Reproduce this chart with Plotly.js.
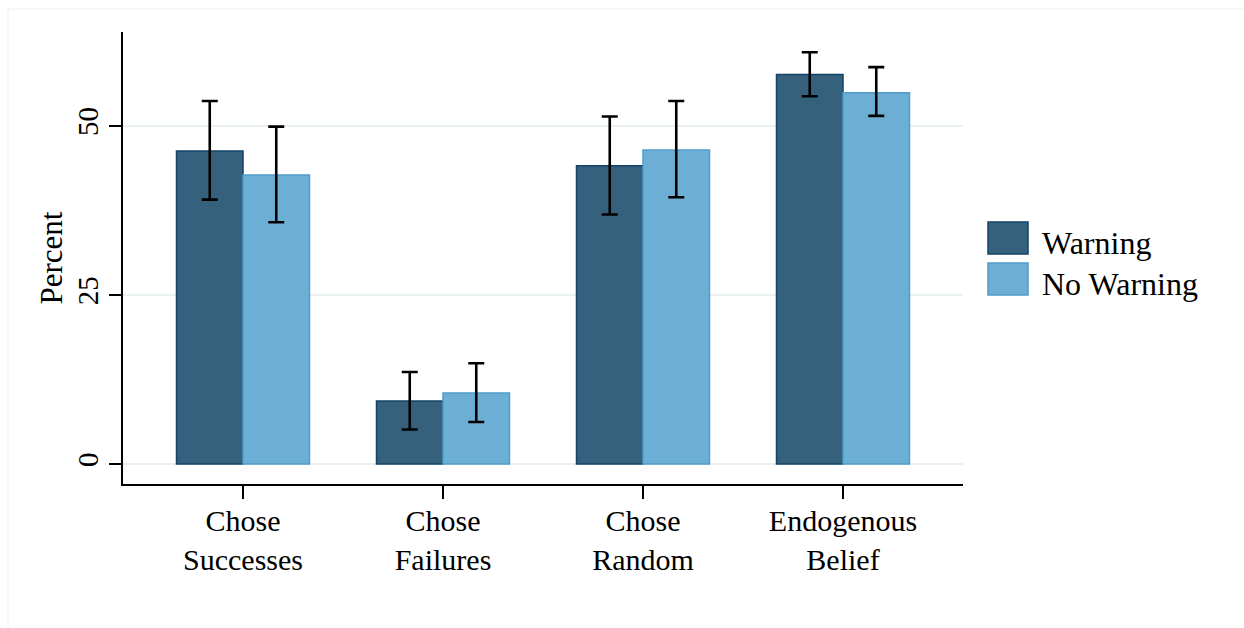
<!DOCTYPE html>
<html>
<head>
<meta charset="utf-8">
<script src="https://cdn.plot.ly/plotly-3.0.1.min.js"></script>
<style>html,body{margin:0;padding:0;background:#fff;}#chart{width:1244px;height:628px;}</style>
</head>
<body>
<div id="chart"></div>
<script>
var categories = ["Chose<br>Successes", "Chose<br>Failures", "Chose<br>Random", "Endogenous<br>Belief"];
var seriesNames = ["Warning", "No Warning"];
var warning = [46.3, 9.3, 44.1, 57.6];
var warningHi = [53.7, 13.6, 51.4, 60.9];
var warningLo = [39.1, 5.1, 36.9, 54.4];
var noWarning = [42.75, 10.5, 46.45, 54.9];
var noWarningHi = [49.9, 14.9, 53.7, 58.7];
var noWarningLo = [35.75, 6.2, 39.45, 51.5];
var yTicks = [0, 25, 50];

var colors = {fill: ["#35617d", "#6caed4"], line: ["#124467", "#4f9dca"]};
var serif = "Liberation Serif, Times New Roman, serif";

function mk(vals, hi, lo, i) {
  return {
    type: "bar", x: categories, y: vals, name: seriesNames[i],
    marker: {color: colors.fill[i], line: {color: colors.line[i], width: 1.5}},
    error_y: {type: "data", symmetric: false,
      array: hi.map(function(h, k){return h - vals[k];}),
      arrayminus: lo.map(function(l, k){return vals[k] - l;}),
      color: "#000", thickness: 2.6, width: 8},
    hoverinfo: "y"
  };
}
var data = [mk(warning, warningHi, warningLo, 0), mk(noWarning, noWarningHi, noWarningLo, 1)];

var L = 123, R = 963, T = 32, B = 484;
function px(x){return (x - L) / (R - L);}
function py(y){return (B - y) / (B - T);}
var shapes = [], annotations = [];
var legY = [[222, 254], [263, 295]];
var legTextY = [243, 284];
for (var i = 0; i < 2; i++) {
  shapes.push({type: "rect", xref: "paper", yref: "paper",
    x0: px(988), x1: px(1028), y0: py(legY[i][1]), y1: py(legY[i][0]),
    fillcolor: colors.fill[i], line: {color: colors.line[i], width: 1.5}});
  annotations.push({xref: "paper", yref: "paper", x: px(1040), y: py(legTextY[i]),
    xanchor: "left", yanchor: "middle", showarrow: false, text: seriesNames[i],
    font: {family: serif, size: 32, color: "#000"}});
}
// faint outer frame
shapes.push({type: "line", xref: "paper", yref: "paper", x0: px(8), x1: px(1244), y0: py(9), y1: py(9), line: {color: "#f0f0f0", width: 1}});
shapes.push({type: "line", xref: "paper", yref: "paper", x0: px(8), x1: px(8), y0: py(9), y1: py(628), line: {color: "#f0f0f0", width: 1}});

var layout = {
  width: 1244, height: 628,
  margin: {l: L, r: 1244 - R, t: T, b: 628 - B, pad: 0},
  paper_bgcolor: "#fff", plot_bgcolor: "#fff",
  barmode: "group", bargap: 0.335, bargroupgap: 0,
  showlegend: false,
  font: {family: serif, color: "#000"},
  xaxis: {
    type: "category", range: [-0.6, 3.6], fixedrange: true,
    showline: true, linecolor: "#000", linewidth: 1.6, mirror: false,
    ticks: "outside", ticklen: 13, tickwidth: 1.5, tickcolor: "#000",
    ticklabelstandoff: -4,
    showgrid: false, zeroline: false,
    tickfont: {family: serif, size: 30, color: "#000"}
  },
  yaxis: {
    range: [-2.96, 63.9], fixedrange: true,
    tickvals: yTicks, ticktext: yTicks.map(String), tickangle: -90,
    showline: true, linecolor: "#000", linewidth: 1.6,
    ticks: "outside", ticklen: 12, tickwidth: 1.5, tickcolor: "#000",
    showgrid: true, gridcolor: "#eaf1f3", gridwidth: 2.2, zeroline: false,
    tickfont: {family: serif, size: 29, color: "#000"},
    title: {text: "Percent", standoff: 0, font: {family: serif, size: 31, color: "#000"}}
  },
  shapes: shapes, annotations: annotations
};
Plotly.newPlot("chart", data, layout, {displayModeBar: false, staticPlot: true});
</script>
</body>
</html>
